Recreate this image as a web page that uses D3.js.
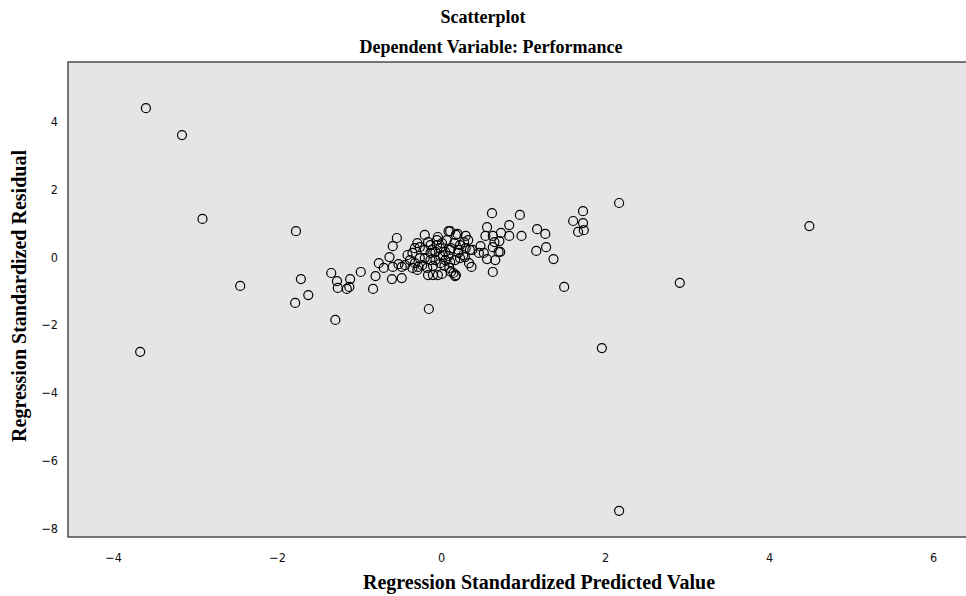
<!DOCTYPE html>
<html>
<head>
<meta charset="utf-8">
<script src="https://cdn.jsdelivr.net/npm/d3@7"></script>
<style>
  body { margin: 0; background: #fff; }
  .tick text { font-family: "DejaVu Sans Condensed", "DejaVu Sans", sans-serif; font-size: 12.5px; fill: #111; }
  .title { font-family: "Liberation Serif", serif; font-weight: bold; fill: #000; }
</style>
</head>
<body>
<script>
//data
var predicted = [
  -3.60, -3.16, -2.91, -3.67, -2.45, -1.77, -1.78, -1.71, -1.62, -1.29,
  -0.15, 2.17, 1.96, 2.17, 2.91, 4.49, 1.50,
  -1.34, -1.27, -1.26, -1.15, -1.12, -1.11, -0.98, -0.83, -0.80, -0.76,
  -0.70, -0.63, -0.59, -0.54, -0.60, -0.59, -0.52, -0.48, -0.48,
  1.73, 1.61, 1.73, 1.74, 1.67, 1.27, 1.28, 1.37, 1.17, 1.16,
  0.96, 0.83, 0.83, 0.98, 0.62, 0.56, 0.73, 0.54, 0.63, 0.65,
  0.71, 0.63, 0.70, 0.48, 0.46, 0.52, 0.56, 0.66, 0.38, 0.37,
  0.63, 0.72,
  -0.20, 0.09, 0.20, 0.30, 0.33, 0.35, 0.34, 0.27, -0.41, -0.35,
  -0.32, -0.29, -0.26, -0.16, -0.11, -0.05, -0.01, 0.02, 0.07, 0.11,
  0.16, 0.21, 0.23, 0.17, 0.11, 0.05, -0.01, -0.07, -0.13, -0.20,
  -0.26, -0.32, -0.28, -0.16, -0.10, -0.04, 0.01, 0.15, 0.17, -0.29,
  -0.05, 0.01, 0.11, 0.18, 0.28, 0.12, 0.21, 0.29, 0.12, 0.18,
  -0.38, -0.13, 0.05, -0.01, -0.07, -0.20, 0.09, -0.44, -0.35, -0.23,
  0.04, -0.04, -0.13, 0.23, 0.30, -0.10, -0.17, 0.10
];
var residual = [
  4.38, 3.59, 1.12, -2.79, -0.85, 0.76, -1.35, -0.65, -1.12, -1.85,
  -1.53, 1.59, -2.68, -7.47, -0.76, 0.91, -0.88,
  -0.47, -0.71, -0.91, -0.94, -0.88, -0.65, -0.44, -0.94, -0.56, -0.18,
  -0.32, 0.00, 0.32, 0.56, -0.65, -0.29, -0.21, -0.62, -0.29,
  1.35, 1.06, 1.00, 0.79, 0.74, 0.68, 0.29, -0.06, 0.82, 0.18,
  1.24, 0.94, 0.62, 0.62, 1.29, 0.88, 0.71, 0.62, 0.62, 0.44,
  0.47, 0.29, 0.15, 0.32, 0.12, 0.12, -0.06, -0.09, 0.21, -0.29,
  -0.44, 0.15,
  0.65, 0.76, 0.68, 0.62, 0.50, 0.21, -0.18, 0.06, 0.06, 0.12,
  0.26, 0.41, 0.29, 0.44, 0.21, 0.50, 0.26, 0.06, 0.50, 0.21,
  0.41, 0.21, -0.03, -0.09, -0.15, -0.09, -0.18, -0.09, -0.09, -0.03,
  -0.03, -0.18, -0.29, -0.53, -0.53, -0.53, -0.50, -0.47, -0.56, -0.38,
  0.35, 0.41, 0.76, 0.65, 0.44, 0.26, 0.12, 0.00, -0.44, -0.53,
  -0.09, 0.12, 0.15, 0.03, 0.15, 0.21, 0.03, -0.24, -0.32, -0.24,
  -0.26, 0.59, 0.35, 0.35, 0.26, -0.26, -0.32, -0.32
];
var xTicks = [-4, -2, 0, 2, 4, 6];
var yTicks = [4, 2, 0, -2, -4, -6, -8];

var width = 966,
    height = 596;

var plot = {left: 68, top: 62, right: 967, bottom: 537};

var svg = d3.select("body")
    .append("svg")
    .attr("width", width)
    .attr("height", height);

var x = d3.scaleLinear()
    .domain([-4.55, 6.40])
    .range([plot.left, plot.right - 1]);

var y = d3.scaleLinear()
    .domain([-8.24, 5.74])
    .range([plot.bottom, plot.top]);

//grey plot background with frame
svg.append("rect")
    .attr("x", plot.left)
    .attr("y", plot.top)
    .attr("width", plot.right - plot.left)
    .attr("height", plot.bottom - plot.top)
    .attr("fill", "#e5e5e5")
    .attr("stroke", "#333")
    .attr("stroke-width", 1.3);

//axes, labels only
var xAxis = svg.append("g")
    .attr("transform", "translate(0," + plot.bottom + ")")
    .call(d3.axisBottom(x).tickValues(xTicks).tickSize(0).tickPadding(16));
xAxis.select(".domain").remove();

var yAxis = svg.append("g")
    .attr("transform", "translate(" + plot.left + ",0)")
    .call(d3.axisLeft(y).tickValues(yTicks).tickSize(0).tickPadding(10));
yAxis.select(".domain").remove();

//points
svg.append("g")
    .selectAll("circle")
    .data(predicted)
    .enter()
    .append("circle")
    .attr("cx", function(d){ return x(d); })
    .attr("cy", function(d, i){ return y(residual[i]); })
    .attr("r", 4.5)
    .attr("fill", "none")
    .attr("stroke", "#000")
    .attr("stroke-width", 1.2);

//titles
svg.append("text")
    .attr("class", "title")
    .attr("x", 483)
    .attr("y", 23)
    .attr("text-anchor", "middle")
    .style("font-size", "18px")
    .text("Scatterplot");

svg.append("text")
    .attr("class", "title")
    .attr("x", 491)
    .attr("y", 53)
    .attr("text-anchor", "middle")
    .style("font-size", "18px")
    .text("Dependent Variable: Performance");

svg.append("text")
    .attr("class", "title")
    .attr("x", 539)
    .attr("y", 589)
    .attr("text-anchor", "middle")
    .style("font-size", "20px")
    .text("Regression Standardized Predicted Value");

svg.append("text")
    .attr("class", "title")
    .attr("transform", "translate(26,296) rotate(-90)")
    .attr("text-anchor", "middle")
    .style("font-size", "20px")
    .text("Regression Standardized Residual");
</script>
</body>
</html>
